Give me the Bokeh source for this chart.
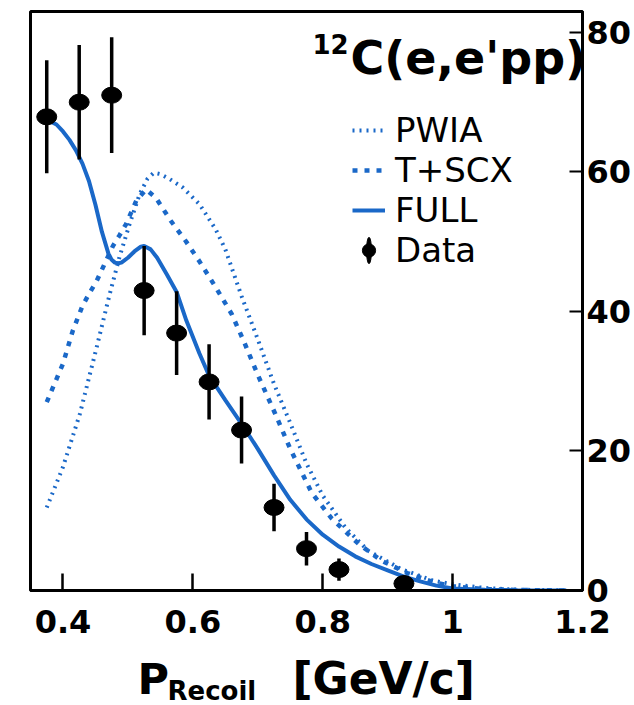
import numpy as np
from bokeh.plotting import figure
from bokeh.layouts import column
from bokeh.models import Range1d, FixedTicker, Legend, LegendItem, Label
from bokeh.embed import file_html
from bokeh.resources import INLINE

# ---------------- data ----------------
data_p = [0.375, 0.425, 0.475, 0.525, 0.575, 0.625, 0.675, 0.725, 0.775, 0.825, 0.925]
data_y = [67.9, 70.0, 71.0, 43.0, 36.9, 29.9, 23.0, 11.9, 6.0, 3.0, 1.0]
data_err = [8.1, 8.2, 8.3, 6.4, 6.0, 5.4, 4.8, 3.4, 2.4, 1.6, 0.5]

full_p = [0.375, 0.39, 0.40, 0.41, 0.42, 0.43, 0.44, 0.45, 0.46, 0.47, 0.475, 0.48,
          0.485, 0.49, 0.50, 0.51, 0.52, 0.525, 0.535, 0.545, 0.56, 0.575, 0.59,
          0.61, 0.625, 0.65, 0.675, 0.70, 0.725, 0.75, 0.775, 0.80, 0.825, 0.85,
          0.875, 0.90, 0.925, 0.95, 0.975, 1.0, 1.05, 1.1, 1.175]
full_y = [67.5, 66.8, 65.8, 64.6, 63.1, 61.2, 58.7, 55.3, 51.4, 48.3, 47.4, 47.0,
          46.9, 47.0, 47.7, 48.6, 49.3, 49.4, 48.9, 47.7, 45.3, 42.8, 38.7,
          34.0, 30.8, 27.3, 23.9, 20.3, 16.5, 13.0, 10.2, 8.0, 6.3, 4.9,
          3.8, 2.9, 2.0, 1.3, 0.7, 0.3, 0.12, 0.05, 0.0]

tscx_p = [0.375, 0.40, 0.415, 0.43, 0.44, 0.452, 0.465, 0.477, 0.487, 0.497, 0.513,
          0.528, 0.543, 0.566, 0.589, 0.61, 0.635, 0.66, 0.68, 0.70, 0.727, 0.75,
          0.783, 0.814, 0.855, 0.89, 0.93, 0.97, 1.0, 1.05, 1.1, 1.175]
tscx_y = [27.0, 32.5, 37.2, 40.8, 42.5, 44.4, 47.0, 49.4, 50.9, 52.5, 55.9,
          57.5, 56.3, 53.0, 50.1, 47.2, 43.5, 39.6, 35.4, 30.9, 25.3, 20.3,
          14.0, 10.3, 6.7, 4.3, 2.5, 1.2, 0.6, 0.2, 0.08, 0.0]

pwia_p = [0.375, 0.40, 0.426, 0.452, 0.472, 0.487, 0.5025, 0.518, 0.53, 0.54, 0.55,
          0.564, 0.584, 0.61, 0.635, 0.65, 0.675, 0.70, 0.725, 0.75, 0.775, 0.80,
          0.835, 0.87, 0.92, 0.97, 1.0, 1.05, 1.1, 1.175]
pwia_y = [11.9, 17.7, 25.3, 34.9, 42.5, 47.8, 52.5, 56.8, 59.0, 59.9, 59.7,
          59.0, 57.8, 55.4, 51.8, 48.9, 42.2, 36.0, 29.6, 24.0, 18.2, 13.6,
          9.0, 5.7, 3.1, 1.4, 0.9, 0.35, 0.12, 0.0]

x_ticks = [0.4, 0.6, 0.8, 1.0, 1.2]
x_tick_labels = ["0.4", "0.6", "0.8", "1", "1.2"]
y_ticks = [0, 20, 40, 60, 80]
y_tick_labels = ["0", "20", "40", "60", "80"]

series_names = ["PWIA", "T+SCX", "FULL", "Data"]
reaction_mass = "12"
reaction_text = "C(e,e'pp)"
xlabel_main = "P"
xlabel_sub = "Recoil"
xlabel_unit = "[GeV/c]"

# ---------------- styles ----------------
BLUE = "#1a68c8"
FONT = "DejaVu Sans"

p = figure(width=634, height=648,
           x_range=Range1d(0.35, 1.2), y_range=Range1d(0, 83),
           y_axis_location="right", output_backend="svg", toolbar_location=None,
           min_border_left=30, min_border_right=49, min_border_top=11,
           min_border_bottom=58)
p.grid.visible = False
p.outline_line_color = "black"
p.outline_line_width = 3
p.outline_line_alpha = 1.0
p.background_fill_color = "white"
p.border_fill_color = "white"

xa = p.xaxis[0]
xa.ticker = FixedTicker(ticks=x_ticks)
xa.major_label_overrides = dict(zip(x_ticks, x_tick_labels))
xa.major_tick_in = 17
xa.major_tick_out = 0
xa.minor_tick_in = 0
xa.minor_tick_out = 0
xa.axis_line_width = 3
xa.major_tick_line_width = 2.5
xa.major_label_text_font = FONT
xa.major_label_text_font_style = "bold"
xa.major_label_text_font_size = "32px"
xa.major_label_text_color = "black"
xa.major_label_standoff = 19

ya = p.yaxis[0]
ya.ticker = FixedTicker(ticks=y_ticks)
ya.major_label_overrides = dict(zip(y_ticks, y_tick_labels))
ya.major_tick_in = 13
ya.major_tick_out = 0
ya.minor_tick_in = 0
ya.minor_tick_out = 0
ya.axis_line_width = 3
ya.major_tick_line_width = 2
ya.major_label_text_font = FONT
ya.major_label_text_font_style = "bold"
ya.major_label_text_font_size = "32px"
ya.major_label_text_color = "black"
ya.major_label_standoff = 4

# ---------------- curves ----------------
r_pwia = p.line(pwia_p, pwia_y, line_color=BLUE, line_width=4, line_dash="2 5")
r_tscx = p.line(tscx_p, tscx_y, line_color=BLUE, line_width=4.5, line_dash="5 7")
r_full = p.line(full_p, full_y, line_color=BLUE, line_width=4)

# ---------------- data points ----------------
lo = [y - e for y, e in zip(data_y, data_err)]
hi = [y + e for y, e in zip(data_y, data_err)]
p.segment(x0=data_p, y0=lo, x1=data_p, y1=hi, line_color="black", line_width=3.5)
# thin marks hidden inside the points: they give the legend its symbol
leg_bar = p.ellipse(x=data_p, y=data_y, width=3, height=16, width_units="screen",
                    height_units="screen", fill_color="black", line_color="black")
leg_dot = p.scatter(data_p, data_y, marker="circle", size=12,
                    fill_color="black", line_color="black")
p.ellipse(x=data_p, y=data_y, width=20, height=16, width_units="screen",
          height_units="screen", fill_color="black", line_color="black")

# one legend per row so the rows sit as close as in the reference
leg_rows = [([r_pwia], 440), ([r_tscx], 400), ([r_full], 360), ([leg_bar, leg_dot], 320)]
for name, (rends, ly) in zip(series_names, leg_rows):
    lg = Legend(items=[LegendItem(label=name, renderers=rends)],
                location=(322, ly), glyph_width=33, glyph_height=40,
                label_height=40, spacing=0, label_standoff=10, padding=0,
                margin=0, border_line_alpha=0, background_fill_alpha=0,
                label_text_font=FONT, label_text_font_size="34px",
                label_text_color="black", label_text_baseline="middle")
    p.add_layout(lg)


def lab(fig, x, y, text, size):
    fig.add_layout(Label(x=x, y=y, x_units="screen", y_units="screen", text=text,
                         text_font=FONT, text_font_size=f"{size}px",
                         text_font_style="bold", text_color="black",
                         text_baseline="middle", text_align="left"))


lab(p, 282, 547, reaction_mass, 26)
lab(p, 320, 533, reaction_text, 46)

# ---------------- axis title strip (frame aligned with the plot above) ----------------
t = figure(width=634, height=57, output_backend="svg", toolbar_location=None,
           x_axis_location=None, y_axis_location=None, min_border=0,
           x_range=Range1d(0, 1), y_range=Range1d(0, 1))
t.grid.visible = False
t.outline_line_color = None
t.background_fill_color = "white"
t.border_fill_color = "white"
lab(t, 107, 27, xlabel_main, 43)
lab(t, 137, 15, xlabel_sub, 26)
lab(t, 262, 27, xlabel_unit, 44)

layout = column(p, t, spacing=0)
open("out.html", "w").write(file_html(layout, INLINE))
